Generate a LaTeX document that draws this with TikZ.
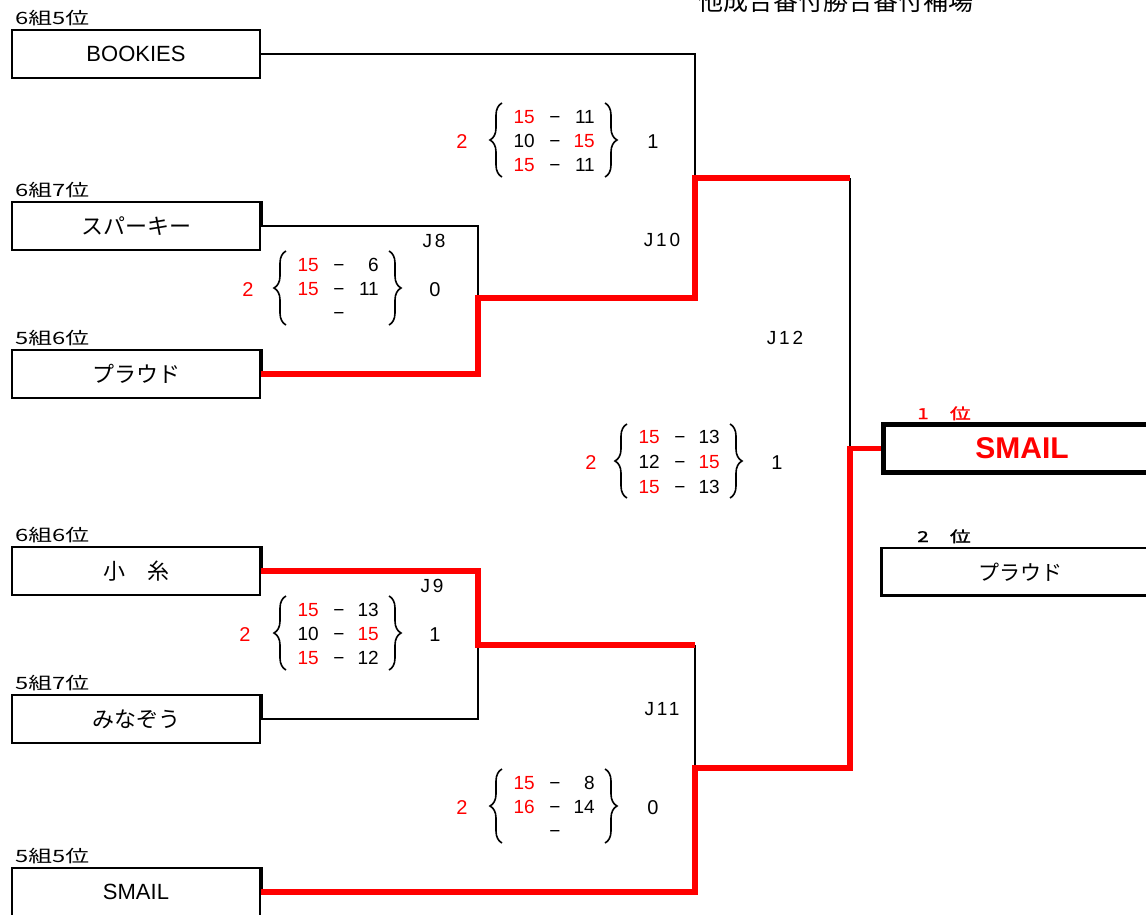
\documentclass[tikz,border=0pt]{standalone}
\usepackage{fontspec}
\setmainfont{Liberation Sans}
\newfontfamily\cjk{Noto Sans CJK JP}[AutoFakeBold=1.5]
\newfontfamily\cjkw{Noto Sans CJK JP}[FakeStretch=1.4,AutoFakeBold=1.5]
\newfontfamily\jlab{Liberation Sans}[LetterSpace=15]
\usetikzlibrary{decorations.pathreplacing}
\definecolor{rd}{RGB}{255,0,0}
\newcommand\srow[4]{%
  \node[sc,anchor=east] (#1l) at (-20,#2) {#3};
  \node[sc] (#1d) at (0,#2) {\symbol{"2212}};
  \node[sc,anchor=east] (#1r) at (40,#2) {#4};}
\newcommand\sbr{%
  \draw[brc] (-53,36) -- (-53,-38);
  \draw[brc] (50,-38) -- (50,36);}
\begin{document}
\begin{tikzpicture}[x=1pt,y=-1pt,
  team/.style={draw,line width=2pt,minimum width=248pt,minimum height=48pt,inner sep=0pt,font=\fontsize{22}{24}\selectfont},
  grp/.style={anchor=base west,inner sep=0pt,font=\cjkw\fontsize{17}{19}\selectfont},
  sc/.style={inner sep=0pt,text height=13.6pt,text depth=0pt,font=\fontsize{19}{21}\selectfont},
  big/.style={inner sep=0pt,text height=14.3pt,text depth=0pt,font=\fontsize{20}{22}\selectfont},
  jl/.style={inner sep=0pt,font=\jlab\fontsize{19}{21}\selectfont},
  brc/.style={decorate,decoration={brace,amplitude=12pt},line width=1.6pt},
  lose/.style={line width=2pt},
  win/.style={draw=rd,line width=5.5pt,line join=miter}]
\useasboundingbox (0,0) rectangle (1146,914);

% title (cut off at the top, as in the reference)
\node[anchor=base,inner sep=0pt,font=\cjk\fontsize{25}{27}\selectfont] (title) at (836,10) {他成合番付勝合番付補場};

% teams
\node[team] (b1) at (136,53.5) {BOOKIES};
\node[team] (b2) at (136,226) {\cjk スパーキー};
\node[team] (b3) at (136,374) {\cjk プラウド};
\node[team] (b4) at (136,571) {\cjk 小　糸};
\node[team] (b5) at (136,719) {\cjk みなぞう};
\node[team] (b6) at (136,892) {SMAIL};

\foreach \b in {b2,b3,b4,b5,b6} \draw[line width=4.5pt] (\b.north east) -- (\b.east);

\node[grp] (g1) at (15,24) {6組5位};
\node[grp] (g2) at (15,196) {6組7位};
\node[grp] (g3) at (15,344) {5組6位};
\node[grp] (g4) at (15,541) {6組6位};
\node[grp] (g5) at (15,689) {5組7位};
\node[grp] (g6) at (15,862) {5組5位};

% results
\node[draw,line width=5pt,minimum width=278pt,minimum height=48pt,inner sep=0pt,text=rd,font=\bfseries\fontsize{30}{32}\selectfont] (w) at (1022,448.5) {SMAIL};
\node[draw,line width=2.2pt,minimum width=278pt,minimum height=47.5pt,inner sep=0pt,font=\cjk\fontsize{21}{24}\selectfont] (s) at (1020.5,571.75) {プラウド};
\node[anchor=base west,inner sep=0pt,text=rd,font=\cjkw\bfseries\fontsize{15}{17}\selectfont] (p1) at (917,419) {1　位};
\node[anchor=base west,inner sep=0pt,font=\cjkw\bfseries\fontsize{15}{17}\selectfont] (p2) at (917,542) {2　位};

% junctions
\coordinate (m8) at (478,298);
\coordinate (m9) at (478,645);
\coordinate (m10) at (695,178);
\coordinate (m11) at (695,768);
\coordinate (t11) at (695,645);
\coordinate (t12) at (850,178);
\coordinate (m12) at (850,448.5);

% connectors
\draw[lose] (b1.east) -| (m10);
\draw[lose] (b2.east) -| (m8);
\draw[lose] (b5.east) -| (m9);
\draw[lose] (t11) -- (m11);
\draw[lose] (t12) -- (m12);
\draw[win] (b3.east) -| (m8) -| (m10) -- (t12);
\draw[win] (b4.east) -| (m9) -- (t11);
\draw[win] (b6.east) -| (m11) -| (m12) -- (w.west);

% match labels
\node[jl] (j8) at (434,241) {J8};
\node[jl] (j9) at (432,586) {J9};
\node[jl] (j10) at (662,240) {J10};
\node[jl] (j11) at (662,709) {J11};
\node[jl] (j12) at (785,338) {J12};

% J10 scores
\begin{scope}[shift={(555,141)}]
\sbr
\node[big,text=rd] (a10w) at (-93,0) {2};
\node[big] (a10x) at (98,0) {1};
\srow{a10a}{-24}{\textcolor{rd}{15}}{11}
\srow{a10b}{0}{10}{\textcolor{rd}{15}}
\srow{a10c}{24}{\textcolor{rd}{15}}{11}
\end{scope}

% J8 scores
\begin{scope}[shift={(339,289)}]
\sbr
\node[big,text=rd] (a8w) at (-91,0) {2};
\node[big] (a8x) at (96,0) {0};
\srow{a8a}{-24}{\textcolor{rd}{15}}{6}
\srow{a8b}{0}{\textcolor{rd}{15}}{11}
\srow{a8c}{24}{}{}
\end{scope}

% J12 scores
\begin{scope}[shift={(680,462)}]
\sbr
\node[big,text=rd] (a12w) at (-89,0) {2};
\node[big] (a12x) at (97,0) {1};
\srow{a12a}{-25}{\textcolor{rd}{15}}{13}
\srow{a12b}{0}{12}{\textcolor{rd}{15}}
\srow{a12c}{25}{\textcolor{rd}{15}}{13}
\end{scope}

% J9 scores
\begin{scope}[shift={(339,634)}]
\sbr
\node[big,text=rd] (a9w) at (-94,0) {2};
\node[big] (a9x) at (96,0) {1};
\srow{a9a}{-24}{\textcolor{rd}{15}}{13}
\srow{a9b}{0}{10}{\textcolor{rd}{15}}
\srow{a9c}{24}{\textcolor{rd}{15}}{12}
\end{scope}

% J11 scores
\begin{scope}[shift={(555,807)}]
\sbr
\node[big,text=rd] (a11w) at (-93,0) {2};
\node[big] (a11x) at (98,0) {0};
\srow{a11a}{-24}{\textcolor{rd}{15}}{8}
\srow{a11b}{0}{\textcolor{rd}{16}}{14}
\srow{a11c}{24}{}{}
\end{scope}
\end{tikzpicture}
\end{document}
